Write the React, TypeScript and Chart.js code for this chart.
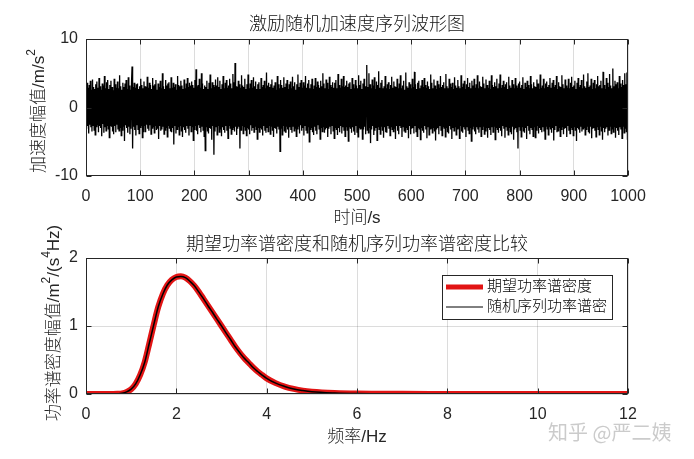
import React, { useEffect, useRef } from 'react';
import { Chart, registerables } from 'chart.js';

Chart.register(...registerables);

// ---------------- data ----------------
const SAMPLE_INTERVAL_S = 1;

// excitation acceleration samples (m/s^2), one per second, t = 0 … 1000 s
const accelValues = [
  1.2,-3.1,3.6,-2.7,2.9,-3.8,3.3,-2.5,3.9,-2.9,2.6,-3.5,4.1,-2.6,3.0,-3.3,2.7,-4.0,3.4,-2.8,
  3.8,-2.5,2.9,-3.6,4.3,-2.7,3.1,-3.0,2.6,-4.2,3.5,-2.4,3.2,-3.7,4.6,-2.9,2.8,-3.4,3.7,-2.6,
  4.0,-3.1,2.7,-4.4,3.3,-2.6,3.9,-2.8,3.0,-3.5,2.5,-3.9,4.2,-2.7,3.4,-3.6,2.9,-2.5,3.8,-3.2,
  2.8,-3.4,4.7,-2.9,3.1,-4.1,2.6,-3.3,3.6,-2.7,3.0,-4.9,3.5,-2.6,4.0,-3.0,2.7,-3.7,4.4,-2.8,
  3.2,-3.9,2.6,-3.1,3.7,6.0,-6.0,3.0,-2.8,3.6,-3.3,2.9,-4.1,3.4,-2.6,3.5,-3.2,2.7,-3.8,3.1,
  -2.9,4.2,-2.6,3.3,-4.4,2.8,-3.5,3.8,-2.7,3.1,-3.6,3.0,-2.5,4.5,-3.1,2.9,-3.4,3.6,-2.6,3.3,
  -3.9,2.7,-3.0,4.3,-2.8,3.2,-3.7,3.4,-2.6,4.0,-3.3,2.6,-3.1,3.5,-4.6,3.0,-2.7,3.9,-3.4,2.8,
  -3.2,5.0,-2.8,3.1,-3.9,2.7,-3.3,4.0,-2.9,3.2,-4.3,3.5,-2.6,3.7,-3.1,2.8,-3.5,4.4,-3.6,2.9,
  -3.0,3.6,-5.4,3.0,-2.7,3.4,-3.8,2.6,-3.2,4.6,-2.8,3.3,-4.0,3.1,-2.6,3.9,-3.4,3.2,-4.3,2.7,
  -2.9,4.1,-3.3,2.8,-3.7,3.5,-2.7,4.3,-3.1,3.0,-4.1,3.6,-2.6,3.2,-3.5,3.8,-2.8,3.3,-4.8,2.9,
  -3.2,4.0,-2.7,5.6,-3.4,3.1,-3.9,3.3,-2.6,4.2,-3.0,2.9,-3.6,5.0,-2.8,3.5,-3.3,2.7,-4.2,3.2,
  -6.3,3.0,-2.8,3.9,-3.4,2.7,-3.8,3.6,-3.0,4.8,-3.1,2.8,-4.7,3.7,-2.7,3.3,-6.9,3.0,-3.5,4.1,
  -2.8,3.2,-4.0,4.4,-2.6,3.0,-3.6,3.9,-3.1,2.7,-4.2,3.4,-2.9,4.6,-3.3,2.8,-3.7,3.6,-2.7,4.0,
  -3.4,2.9,-4.5,3.2,-2.6,4.2,-3.0,3.5,-3.9,2.8,-3.2,4.9,-2.9,3.7,-3.5,6.5,-2.8,3.1,-4.0,3.0,
  -3.1,3.9,-2.8,3.4,-6.0,2.9,-3.3,4.7,-2.6,3.2,-3.8,3.0,-2.8,4.2,-3.3,2.7,-4.1,3.4,-3.0,4.8,
  -3.2,2.8,-3.9,3.5,-2.6,4.0,-3.4,2.9,-3.0,4.4,-3.6,3.1,-2.7,3.8,-3.2,2.7,-4.6,3.4,-2.9,3.7,
  -3.6,2.7,-3.0,4.3,-3.2,3.0,-4.1,3.3,-2.7,3.9,-3.4,2.8,-3.7,5.1,-2.9,3.2,-3.5,3.6,-2.6,3.0,
  -3.9,3.4,-2.7,4.1,-3.3,2.9,-4.3,3.2,-3.0,3.7,-3.1,2.6,-3.8,4.6,-2.8,3.4,-3.2,2.8,-6.4,4.0,
  -3.0,3.3,-4.0,2.9,-2.6,4.4,-3.4,3.0,-3.6,3.5,-2.8,4.0,-3.2,2.7,-4.4,3.4,-2.9,3.8,-3.3,2.8,
  -3.7,4.5,-2.7,3.1,-3.4,3.7,-3.0,2.6,-4.2,3.4,-3.1,4.8,-2.8,3.0,-3.8,3.6,-2.6,4.0,-3.4,2.9,
  -3.0,3.7,-4.1,3.2,-2.7,4.6,-3.3,2.9,-3.7,3.5,-2.8,4.0,-5.0,2.8,-3.2,3.4,-3.0,4.2,-3.6,2.7,
  -4.0,3.2,-2.8,4.3,-3.4,3.0,-3.9,3.8,-2.6,3.3,-3.1,2.9,-4.6,3.9,-2.9,3.1,-3.5,5.0,-2.8,3.5,
  -3.7,2.8,-3.2,4.1,-3.0,3.6,-4.3,2.7,-3.1,4.5,-2.8,3.3,-3.9,3.0,-2.6,3.7,-3.4,2.9,-4.5,3.6,
  -2.9,4.0,-3.2,2.8,-4.0,4.9,-3.0,3.3,-3.6,2.9,-2.7,4.2,-3.8,3.1,-2.9,4.6,-3.4,3.0,-4.2,3.2,
  -2.8,3.9,-3.3,3.0,-4.9,3.5,-2.8,3.7,-3.1,2.7,-3.7,4.3,-2.9,3.4,-3.5,2.8,-4.0,4.0,-2.7,3.2,
  -3.6,2.8,-4.3,4.7,-2.9,3.3,-3.1,3.9,-3.0,2.7,-4.6,3.5,-3.2,4.2,-2.8,3.1,-3.9,2.9,6.2,-3.3,
  3.0,-3.7,5.0,-3.0,3.4,-5.2,2.8,-3.2,4.1,-2.7,3.2,-4.0,4.4,-3.4,2.7,-3.0,3.8,-4.8,3.3,-2.8,
  5.3,-3.2,2.9,-3.9,3.6,-2.7,4.0,-3.4,2.8,-4.4,3.1,-2.9,4.6,-3.6,2.8,-3.7,3.4,-2.7,3.7,-3.1,
  2.7,-4.1,3.3,-2.8,4.5,-3.2,2.9,-3.5,3.8,-3.0,3.1,-4.6,3.0,-2.7,4.2,-3.4,2.8,-3.9,3.5,-2.7,
  4.7,-3.0,2.8,-4.3,3.2,-2.8,3.9,-3.4,2.6,-3.6,5.1,-2.9,3.1,-3.2,2.9,-4.5,3.7,-2.7,3.4,-3.9,
  2.8,-3.1,4.2,-3.0,3.0,-3.8,5.2,-2.7,3.4,-3.5,2.7,-4.2,3.6,-2.9,3.9,-3.1,2.8,-4.7,3.2,-3.0,
  4.0,-3.4,3.0,-3.7,4.3,-2.7,3.3,-3.2,2.9,-4.5,3.8,-2.8,3.1,-4.0,2.7,-3.1,4.8,-3.0,3.6,-3.7,
  2.8,-2.9,4.1,-3.5,3.2,-4.8,2.7,-3.2,3.9,-3.0,3.4,-3.9,2.9,-2.7,4.6,-3.3,3.0,-4.1,3.3,-2.8,
  3.7,-3.0,2.8,-4.3,4.9,-2.9,3.1,-3.6,2.8,-3.8,4.2,-2.7,3.5,-3.2,3.0,-4.6,3.6,-3.0,2.7,-3.4,
  4.4,-2.8,3.2,-4.0,2.9,-3.1,4.0,-3.0,3.1,-4.5,2.8,-2.7,4.7,-3.5,3.0,-3.7,3.5,-2.9,3.9,-3.2,
  2.7,-4.3,3.4,-2.8,4.3,-3.3,3.0,-3.8,3.6,-2.9,2.8,-4.9,3.9,-3.1,3.2,-2.8,4.2,-3.5,2.9,-3.9,
  3.4,-2.9,4.7,-3.2,2.8,-3.7,3.8,-2.8,3.1,-4.2,3.0,-3.2,4.5,-2.7,3.5,-3.9,2.8,-3.4,4.1,-3.0,
  3.3,-4.4,2.9,-3.0,3.9,-3.3,2.7,-4.0,4.7,-2.9,3.3,-3.6,3.0,-2.7,3.7,-4.7,3.1,-2.9,4.2,-3.2,
  2.8,-3.7,3.5,-3.0,4.8,-3.4,2.9,-4.2,3.3,-2.7,3.9,-3.1,3.0,-4.4,3.4,-2.8,3.7,-3.3,2.7,-4.0,
  4.5,-2.9,3.2,-3.5,2.9,-3.9,4.0,-2.8,3.4,-4.7,2.8,-3.2,4.3,-3.0,3.2,-3.6,2.9,-6.0,3.5,-2.8,
  3.8,-3.3,2.9,-4.3,3.3,-2.8,4.4,-3.4,2.7,-3.7,3.6,-3.0,3.0,-4.6,3.9,-2.7,3.3,-3.4,2.8,-3.9,
  4.6,-3.0,3.4,-3.2,2.8,-4.2,3.7,-2.8,3.1,-4.4,3.0,-3.3,4.1,-2.7,3.5,-3.8,2.7,-3.0,4.8,-3.3,
  2.9,-3.6,3.2,-2.9,4.2,-3.5,2.8,-4.6,3.5,-2.7,3.8,-3.1,3.0,-4.0,3.3,-2.8,4.3,-3.2,2.9,-3.7,
  3.6,-3.0,4.0,-4.8,3.0,-3.3,3.3,-2.7,4.6,-3.6,2.7,-3.4,3.7,-2.9,3.1,-4.2,3.0,-3.2,4.7,-2.8,
  3.4,-3.9,2.8,-3.1,4.1,-3.0,3.2,-4.3,2.9,-2.7,4.2,-3.4,2.8,-3.8,3.6,-2.9,4.5,-3.2,3.0,-4.1,
  3.2,-2.8,3.9,-3.3,2.7,-4.9,3.6,-3.0,4.3,-3.2,3.0,-3.7,3.3,-2.8,4.0,-3.5,2.8,-3.1,4.8,-2.9,
  3.1,-4.0,2.9,-3.2,3.8,-2.7,5.0,-3.5,3.0,-3.8,3.2,-2.8,4.2,-4.5,2.7,-3.1,3.6,-3.0,4.0,-3.4,
  2.8,-4.3,3.4,-2.8,4.6,-3.2,3.1,-4.0,3.3,-2.7,3.9,-3.4,2.8,-4.7,5.2,-3.0,3.3,-3.6,2.7,-3.1,
  4.3,-2.9,3.6,-4.1,3.0,-3.3,4.9,-2.7,3.2,-3.8,2.8,-3.1,5.7,-3.6,3.1,-2.8,3.9,-4.4,3.4,-3.0,
  3.7,-3.4,2.8,-4.0,4.6,-2.9,3.5,-3.2,3.0,-4.5,4.0,-2.7,3.3,-3.7,5.0,-3.0,3.4,-3.5,5.1,-4.7,
  2.8,
];

// frequency axis (Hz) and the two power spectral densities
const freqHz = [
  0, 0.2, 0.4, 0.6, 0.7, 0.8, 0.9, 1.0, 1.1, 1.2, 1.3, 1.4, 1.5, 1.6, 1.7, 1.8, 1.9, 2.0, 2.1, 2.2,
  2.3, 2.4, 2.5, 2.6, 2.7, 2.8, 2.9, 3.0, 3.1, 3.2, 3.3, 3.4, 3.5, 3.6, 3.7, 3.8, 3.9, 4.0, 4.2, 4.4,
  4.6, 4.8, 5.0, 5.5, 6.0, 7.0, 8.0, 10.0, 12.0,
];
const targetPsd = [
  0, 0, 0, 0.001, 0.004, 0.01, 0.03, 0.07, 0.15, 0.28, 0.47, 0.74, 1.02, 1.28, 1.47, 1.6, 1.68, 1.72, 1.73, 1.71,
  1.66, 1.59, 1.5, 1.4, 1.3, 1.2, 1.1, 1.0, 0.9, 0.8, 0.7, 0.61, 0.53, 0.46, 0.39, 0.33, 0.28, 0.23, 0.16, 0.11,
  0.075, 0.05, 0.035, 0.015, 0.006, 0.002, 0.001, 0, 0,
];
const randomPsd = [
  0, 0, 0, 0.001, 0.004, 0.011, 0.031, 0.071, 0.148, 0.282, 0.468, 0.742, 1.018, 1.283, 1.468, 1.603, 1.678, 1.722, 1.728, 1.712,
  1.658, 1.592, 1.498, 1.402, 1.298, 1.202, 1.098, 1.003, 0.898, 0.802, 0.699, 0.611, 0.528, 0.462, 0.389, 0.331, 0.279, 0.231, 0.159, 0.111,
  0.074, 0.051, 0.034, 0.015, 0.006, 0.002, 0.001, 0, 0,
];

const topTitle = '激励随机加速度序列波形图';
const topXLabel = '时间/s';
const topYLabel = [{ t: '加速度幅值/m/s' }, { t: '2', sup: true }];
const bottomTitle = '期望功率谱密度和随机序列功率谱密度比较';
const bottomXLabel = '频率/Hz';
const bottomYLabel = [
  { t: '功率谱密度幅值/m' }, { t: '2', sup: true }, { t: '/(s' }, { t: '4', sup: true }, { t: 'Hz)' },
];
const seriesLabels = ['期望功率谱密度', '随机序列功率谱密'];
const watermarkText = '知乎 @严二姨';

// ---------------- styles ----------------
const INK = '#262626';
const GRID = 'rgba(38,38,38,0.16)';
const RED = 'rgb(226,20,20)';
const FONT = "'Liberation Sans', Arial, 'Noto Sans CJK SC', sans-serif";
const LIGHT = '300';

function drawRich(ctx: CanvasRenderingContext2D, parts: any[], cx: number, cy: number, size: number, rotate: boolean) {
  const supSize = Math.round(size * 0.7);
  let total = 0;
  const widths = parts.map((p) => {
    ctx.font = `${LIGHT} ${p.sup ? supSize : size}px ${FONT}`;
    const w = ctx.measureText(p.t).width;
    total += w;
    return w;
  });
  ctx.save();
  ctx.translate(cx, cy);
  if (rotate) ctx.rotate(-Math.PI / 2);
  ctx.textBaseline = 'middle';
  ctx.textAlign = 'left';
  let x = -total / 2;
  parts.forEach((p, i) => {
    ctx.font = `${LIGHT} ${p.sup ? supSize : size}px ${FONT}`;
    ctx.fillText(p.t, x, p.sup ? -size * 0.42 : 0);
    x += widths[i];
  });
  ctx.restore();
}

const framePlugin = {
  id: 'frame',
  afterDraw(chart: any, _args: any, o: any) {
    const ctx: CanvasRenderingContext2D = chart.ctx;
    const a = chart.chartArea;
    const L = Math.round(a.left) + 0.5;
    const R = Math.round(a.right) - 0.5;
    const T = Math.round(a.top) + 0.5;
    const B = Math.round(a.bottom) - 0.5;
    ctx.save();
    ctx.strokeStyle = INK;
    ctx.lineWidth = 1;
    ctx.strokeRect(L, T, R - L, B - T);
    const xs = chart.scales.x;
    const ys = chart.scales.y;
    ctx.beginPath();
    xs.ticks.forEach((t: any) => {
      const px = Math.round(xs.getPixelForValue(t.value)) + 0.5;
      ctx.moveTo(px, B); ctx.lineTo(px, B - 5);
      ctx.moveTo(px, T); ctx.lineTo(px, T + 5);
    });
    ys.ticks.forEach((t: any) => {
      const py = Math.round(ys.getPixelForValue(t.value)) + 0.5;
      ctx.moveTo(L, py); ctx.lineTo(L + 5, py);
      ctx.moveTo(R, py); ctx.lineTo(R - 5, py);
    });
    ctx.stroke();

    const cx = (a.left + a.right) / 2;
    ctx.fillStyle = '#111';
    ctx.textAlign = 'center';
    ctx.textBaseline = 'middle';
    ctx.font = `${LIGHT} 18px ${FONT}`;
    ctx.fillText(o.title, cx, o.titleY);
    ctx.fillStyle = INK;
    ctx.font = `${LIGHT} 17px ${FONT}`;
    ctx.fillText(o.xLabel, cx, o.xLabelY);
    drawRich(ctx, o.yLabel, o.yLabelX, o.yLabelY, 17, true);

    if (o.legend) {
      const lg = o.legend;
      ctx.fillStyle = '#fff';
      ctx.fillRect(lg.x, lg.y, lg.w, lg.h);
      ctx.strokeStyle = INK;
      ctx.lineWidth = 1;
      ctx.strokeRect(lg.x + 0.5, lg.y + 0.5, lg.w, lg.h);
      lg.items.forEach((it: any, i: number) => {
        const yy = lg.y + lg.rowY[i];
        ctx.strokeStyle = it.color;
        ctx.lineWidth = it.width;
        ctx.beginPath();
        ctx.moveTo(lg.x + 4, yy);
        ctx.lineTo(lg.x + 41, yy);
        ctx.stroke();
        ctx.fillStyle = '#000';
        ctx.textAlign = 'left';
        ctx.textBaseline = 'middle';
        ctx.font = `${LIGHT} 15px ${FONT}`;
        ctx.fillText(it.label, lg.x + 45, yy);
      });
    }
    if (o.watermark) {
      ctx.fillStyle = 'rgba(160,160,160,0.55)';
      ctx.textAlign = 'left';
      ctx.textBaseline = 'middle';
      ctx.font = `20px 'Noto Sans CJK SC', sans-serif`;
      ctx.fillText(o.watermark, 548, 432);
    }
    ctx.restore();
  },
};

const tickFont = { family: FONT, size: 16 };

function baseScale(min: number, max: number, step: number, isX: boolean, grid: boolean) {
  return {
    type: 'linear',
    min,
    max,
    ticks: {
      stepSize: step,
      autoSkip: false,
      maxRotation: 0,
      color: INK,
      font: tickFont,
      padding: isX ? 11 : 8,
      callback: (v: any) => String(v),
    },
    grid: { display: grid, color: GRID, drawTicks: false, lineWidth: 1 },
    border: { display: false },
    afterFit: (s: any) => {
      if (isX) s.height = 40;
      else s.width = 40;
    },
  };
}

export default function App() {
  const topRef = useRef<HTMLCanvasElement>(null);
  const botRef = useRef<HTMLCanvasElement>(null);

  useEffect(() => {
    const common = {
      responsive: false,
      animation: false,
      devicePixelRatio: 1,
      events: [],
    };
    const top = new Chart(topRef.current as HTMLCanvasElement, {
      type: 'line',
      data: {
        datasets: [
          {
            data: accelValues.map((v, i) => ({ x: i * SAMPLE_INTERVAL_S, y: v })),
            borderColor: '#000',
            borderWidth: 1.3,
            pointRadius: 0,
            tension: 0,
            fill: false,
          },
        ],
      },
      options: {
        ...common,
        layout: { padding: { left: 46, right: 66, top: 39, bottom: 243 } },
        scales: {
          x: baseScale(0, 1000, 100, true, true),
          y: baseScale(-10, 10, 10, false, false),
        },
        plugins: {
          legend: { display: false },
          tooltip: { enabled: false },
          frame: {
            title: topTitle,
            titleY: 25,
            xLabel: topXLabel,
            xLabelY: 218,
            yLabel: topYLabel,
            yLabelX: 39,
            yLabelY: 111,
          },
        },
      } as any,
      plugins: [framePlugin],
    } as any);

    const bottom = new Chart(botRef.current as HTMLCanvasElement, {
      type: 'line',
      data: {
        datasets: [
          {
            label: seriesLabels[1],
            data: freqHz.map((f, i) => ({ x: f, y: randomPsd[i] })),
            borderColor: '#000',
            borderWidth: 1.5,
            pointRadius: 0,
            cubicInterpolationMode: 'monotone',
            fill: false,
          },
          {
            label: seriesLabels[0],
            data: freqHz.map((f, i) => ({ x: f, y: targetPsd[i] })),
            borderColor: RED,
            borderWidth: 6,
            pointRadius: 0,
            cubicInterpolationMode: 'monotone',
            fill: false,
          },
        ],
      },
      options: {
        ...common,
        layout: { padding: { left: 46, right: 66, top: 258, bottom: 25 } },
        scales: {
          x: baseScale(0, 12, 2, true, true),
          y: baseScale(0, 2, 1, false, true),
        },
        plugins: {
          legend: { display: false },
          tooltip: { enabled: false },
          frame: {
            title: bottomTitle,
            titleY: 245,
            xLabel: bottomXLabel,
            xLabelY: 437,
            yLabel: bottomYLabel,
            yLabelX: 54,
            yLabelY: 323,
            legend: {
              x: 442,
              y: 275,
              w: 170,
              h: 44,
              rowY: [12, 32],
              items: [
                { label: seriesLabels[0], color: RED, width: 5 },
                { label: seriesLabels[1], color: '#000', width: 1 },
              ],
            },
            watermark: watermarkText,
          },
        },
      } as any,
      plugins: [framePlugin],
    } as any);

    return () => {
      top.destroy();
      bottom.destroy();
    };
  }, []);

  const cstyle: React.CSSProperties = { position: 'absolute', left: 0, top: 0 };
  return (
    <div style={{ position: 'fixed', left: 0, top: 0, width: 694, height: 459, background: '#fff' }}>
      <canvas ref={topRef} width={694} height={459} style={cstyle} />
      <canvas ref={botRef} width={694} height={459} style={cstyle} />
    </div>
  );
}
